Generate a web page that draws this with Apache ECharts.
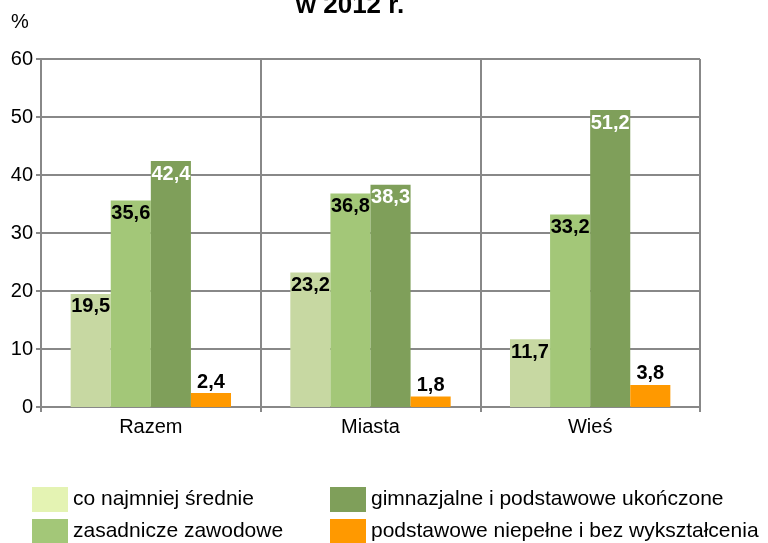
<!DOCTYPE html>
<html>
<head>
<meta charset="utf-8">
<script src="https://cdn.jsdelivr.net/npm/echarts@6/dist/echarts.min.js"></script>
<style>
  html, body { margin: 0; padding: 0; background: #fff; }
  #chart { width: 768px; height: 543px; }
</style>
</head>
<body>
<div id="chart"></div>
<script>
// dane
const categories = ['Razem', 'Miasta', 'Wieś'];
const seriesNames = [
  'co najmniej średnie',
  'zasadnicze zawodowe',
  'gimnazjalne i podstawowe ukończone',
  'podstawowe niepełne i bez wykształcenia'
];
const coNajmniejSrednie = [19.5, 23.2, 11.7];
const zasadniczeZawodowe = [35.6, 36.8, 33.2];
const gimnazjalne = [42.4, 38.3, 51.2];
const podstawoweNiepelne = [2.4, 1.8, 3.8];
const yTicks = [0, 10, 20, 30, 40, 50, 60];

const barColors = ['#c7d8a2', '#a3c778', '#7f9f5a', '#ff9900'];
const legendColors = ['#e4f3b3', '#a3c778', '#7f9f5a', '#ff9900'];
const labelColors = ['#000', '#000', '#fff', '#000'];
const labelPos = ['insideTop', 'insideTop', 'insideTop', 'top'];
const values = [coNajmniejSrednie, zasadniczeZawodowe, gimnazjalne, podstawoweNiepelne];

const FONT = 'Liberation Sans, Arial';
const fmt = p => String(p.value).replace('.', ',');

const chart = echarts.init(document.getElementById('chart'), null, { renderer: 'canvas' });

const series = values.map((vals, i) => ({
  name: seriesNames[i],
  type: 'bar',
  data: vals,
  barGap: '0%',
  barCategoryGap: '27%',
  itemStyle: { color: barColors[i] },
  label: {
    show: true,
    position: labelPos[i],
    distance: i === 3 ? 1 : 3,
    formatter: fmt,
    color: labelColors[i],
    fontFamily: FONT,
    fontWeight: 'bold',
    fontSize: 20
  }
}));

const legendText = { fontFamily: FONT, fontSize: 21, color: '#000' };

chart.setOption({
  animation: false,
  backgroundColor: '#fff',
  title: {
    text: 'w 2012 r.',
    left: 345,
    top: -12,
    textAlign: 'center',
    textStyle: { fontFamily: FONT, fontWeight: 'bold', fontSize: 26, color: '#000' }
  },
  graphic: [{
    type: 'text',
    left: 11,
    top: 12,
    style: { text: '%', font: '20px "Liberation Sans", Arial', fill: '#000' }
  }],
  legend: [
    {
      orient: 'vertical',
      left: 27,
      top: 482,
      height: 80,
      itemWidth: 36,
      itemHeight: 25,
      itemGap: 7,
      icon: 'rect',
      textStyle: legendText,
      data: [0, 1].map(i => ({ name: seriesNames[i], itemStyle: { color: legendColors[i] } }))
    },
    {
      orient: 'vertical',
      left: 325,
      top: 482,
      height: 80,
      itemWidth: 36,
      itemHeight: 25,
      itemGap: 7,
      icon: 'rect',
      textStyle: legendText,
      data: [2, 3].map(i => ({ name: seriesNames[i], itemStyle: { color: legendColors[i] } }))
    }
  ],
  grid: { left: 41, right: 68, top: 59, bottom: 136, containLabel: false },
  xAxis: {
    type: 'category',
    data: categories,
    axisLine: { lineStyle: { color: '#888', width: 2 } },
    axisTick: { show: true, length: 5, lineStyle: { color: '#888', width: 2 } },
    axisLabel: { fontFamily: FONT, fontSize: 20, color: '#000', margin: 10 },
    splitLine: { show: true, lineStyle: { color: '#888', width: 2 } }
  },
  yAxis: {
    type: 'value',
    min: yTicks[0],
    max: yTicks[yTicks.length - 1],
    interval: 10,
    axisLine: { show: true, lineStyle: { color: '#888', width: 2 } },
    axisTick: { show: true, length: 5, lineStyle: { color: '#888', width: 2 } },
    axisLabel: { fontFamily: FONT, fontSize: 20, color: '#000', margin: 8 },
    splitLine: { show: true, lineStyle: { color: '#888', width: 2 } }
  },
  series: series
});
</script>
</body>
</html>
